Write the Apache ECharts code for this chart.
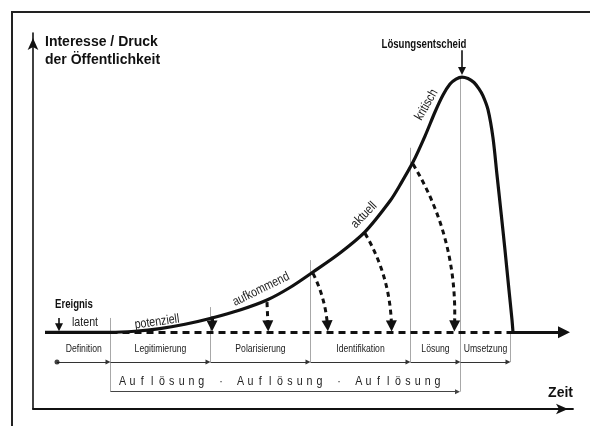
<!DOCTYPE html>
<html><head><meta charset="utf-8">
<script src="https://cdn.jsdelivr.net/npm/echarts@6/dist/echarts.min.js"></script>
<style>html,body{margin:0;padding:0;background:#fff}#c{width:590px;height:426px}</style>
</head><body><div id="c"></div>
<script>
// ---- data (x: time units, y: public interest units, 0 = baseline) ----
const curveX = [1.9, 14.9, 19.9, 24.9, 29.9, 35.3, 40.9, 46.3, 50.9, 55.5, 60.9, 65.9, 70.9, 72.9, 75.5, 77.9, 79.9, 81.5, 82.9, 84.1, 85.3, 86.5, 87.7, 88.7, 89.5, 90.5, 91.5, 92.3, 93.1, 93.9, 94.7, 95.3, 95.5];
const curveY = [0, 0, 0.22, 0.75, 1.62, 2.89, 4.51, 6.53, 9.06, 12.19, 16.03, 20.3, 26.54, 29.77, 34.41, 39.67, 44.53, 47.96, 50.19, 51.2, 51.6, 51.3, 50.5, 49.2, 47.8, 45.0, 39.3, 31.8, 24.3, 16.6, 8.5, 2.5, 0];

const baseDashStart = 15, baseDashEnd = 95.5, baseArrowEnd = 105.7;

const dropStartX = [35.3, 46.3, 55.5, 65.9, 75.5];
const dropStartY = [3.2, 6.1, 11.9, 20.0, 34.0];
const dropEndX   = [35.3, 46.5, 58.4, 71.2, 83.8];
const dropEndY   = [1.3, 1.3, 1.3, 1.3, 1.3];
const dropBend   = [0, 0, 0.1, 0.13, 0.15];

const stageText  = ['latent', 'potenziell', 'aufkommend', 'aktuell', 'kritisch'];
const stageX     = [9.9, 24.3, 45.1, 65.7, 78.2];
const stageY     = [1.9, 2.1, 8.7, 23.7, 46.0];
const stageAngle = [0, 8, 26, 46, 60];

const phaseText   = ['Definition', 'Legitimierung', 'Polarisierung', 'Identifikation', 'Lösung', 'Umsetzung'];
const phaseBounds = [4.3, 15, 35, 55, 75, 85, 95];
const phaseLabelY = -3.4;
const phaseArrowY = -6.0;

const dividerX      = [15, 35, 55, 75, 85, 95];
const dividerTop    = [2.9, 5.1, 14.6, 37.3, 51.6, 0];
const dividerBottom = [-12, -6, -6, -6, -12, -6];

const resolveText = 'Auflösung · Auflösung · Auflösung';
const resolveX = 48.9, resolveY = -10.0;
const resolveStart = 15, resolveEnd = 84.4, resolveLineY = -12;

const eventText = ['Ereignis', 'Lösungsentscheid'];
const eventLabelX = [3.9, 77.7];
const eventLabelY = [5.5, 58.1];
const eventArrowX = [4.7, 85.3];
const eventArrowTop = [2.9, 57.0];
const eventArrowTip = [1.0, 52.8];

const yAxisTitle = 'Interesse / Druck\nder Öffentlichkeit';
const xAxisTitle = 'Zeit';

// ---- chart ----
const FONT = "'Liberation Sans', Arial, sans-serif";
const chart = echarts.init(document.getElementById('c'), null, {renderer: 'canvas'});

const curveData = curveX.map((x, i) => [x, curveY[i]]);

const dropData = dropStartX.map((x, i) => ({
  coords: [[x, dropStartY[i]], [dropEndX[i], dropEndY[i]]],
  lineStyle: {curveness: dropBend[i], type: i === 0 ? 'solid' : [5, 4]}
}));

const dividerData = dividerX.map((x, i) => ({coords: [[x, dividerTop[i]], [x, dividerBottom[i]]]}));
const phaseArrowData = phaseText.map((t, i) => ({coords: [[phaseBounds[i], phaseArrowY], [phaseBounds[i + 1] - 0.5, phaseArrowY]]}));
const eventArrowData = eventArrowX.map((x, i) => ({coords: [[x, eventArrowTop[i]], [x, eventArrowTip[i]]]}));

// condensed text drawn at data positions (custom series, positioned via api.coord)
function textSeries(texts, xs, ys, angles, opts) {
  return {
    type: 'custom', silent: true, z: 6,
    data: texts.map((t, i) => [xs[i], ys[i], angles ? angles[i] : 0]),
    renderItem: function (params, api) {
      const p = api.coord([api.value(0), api.value(1)]);
      const i = params.dataIndex;
      const style = {
        text: texts[i],
        fill: opts.color,
        fontFamily: FONT,
        fontSize: Array.isArray(opts.size) ? opts.size[i] : opts.size,
        fontWeight: opts.weight || 'normal',
        align: opts.aligns ? opts.aligns[i] : 'center', verticalAlign: 'middle'
      };
      if (opts.rich) style.rich = opts.rich;
      return {
        type: 'text', x: p[0], y: p[1],
        rotation: api.value(2) * Math.PI / 180,
        scaleX: Array.isArray(opts.scaleX) ? opts.scaleX[i] : opts.scaleX, scaleY: 1,
        style: style
      };
    }
  };
}

const resolveRich = resolveText.split('').map(c => '{c|' + (c === ' ' ? '\u00a0' : c) + '}').join('');

const option = {
  animation: false,
  backgroundColor: '#fff',
  grid: {left: 33, right: 17, top: 33, bottom: 17},
  xAxis: {
    type: 'value', min: -0.5, max: 107.5,
    axisLine: {onZero: false, symbol: ['none', 'arrow'], symbolSize: [8, 12], symbolOffset: [0, -5],
      lineStyle: {color: '#111', width: 1.8}},
    axisTick: {show: false}, axisLabel: {show: false}, splitLine: {show: false},
    name: xAxisTitle, nameLocation: 'end', nameGap: 0,
    nameTextStyle: {fontFamily: FONT, fontWeight: 'bold', fontSize: 14, color: '#111',
      align: 'right', verticalAlign: 'bottom', padding: [0, 0, 9, 0]}
  },
  yAxis: {
    type: 'value', min: -15.5, max: 60.5,
    axisLine: {onZero: false, symbol: ['none', 'arrow'], symbolSize: [8, 12], symbolOffset: [0, -5],
      lineStyle: {color: '#111', width: 1.6}},
    axisTick: {show: false}, axisLabel: {show: false}, splitLine: {show: false},
    name: yAxisTitle, nameLocation: 'end', nameGap: 0,
    nameTextStyle: {fontFamily: FONT, fontWeight: 'bold', fontSize: 14, color: '#111',
      align: 'left', verticalAlign: 'top', lineHeight: 18, padding: [0, 0, 0, 12]}
  },
  graphic: [{
    type: 'rect', shape: {x: 12, y: 12, width: 620, height: 460}, silent: true,
    style: {fill: 'none', stroke: '#222', lineWidth: 2}
  }],
  series: [
    { // phase dividers
      type: 'lines', coordinateSystem: 'cartesian2d', silent: true, z: 1,
      lineStyle: {color: '#a8a8a8', width: 1, opacity: 1},
      data: dividerData
    },
    { // dashed baseline
      type: 'lines', coordinateSystem: 'cartesian2d', silent: true, z: 2,
      lineStyle: {color: '#111', width: 3, type: [7, 5], opacity: 1},
      data: [{coords: [[baseDashStart, 0], [baseDashEnd, 0]]}]
    },
    { // baseline after implementation
      type: 'lines', coordinateSystem: 'cartesian2d', silent: true, z: 3,
      symbol: ['none', 'triangle'], symbolSize: 12,
      lineStyle: {color: '#111', width: 3, opacity: 1},
      data: [{coords: [[baseDashEnd, 0], [baseArrowEnd, 0]]}]
    },
    { // main issue curve
      type: 'line', silent: true, z: 4, data: curveData, smooth: 0.3,
      showSymbol: false, symbol: 'none',
      lineStyle: {color: '#111', width: 3.2}
    },
    { // drops back to baseline
      type: 'lines', coordinateSystem: 'cartesian2d', silent: true, z: 5,
      symbol: ['none', 'triangle'], symbolSize: 11,
      lineStyle: {color: '#111', width: 3, opacity: 1},
      data: dropData
    },
    { // event arrows
      type: 'lines', coordinateSystem: 'cartesian2d', silent: true, z: 5,
      symbol: ['none', 'triangle'], symbolSize: 8,
      lineStyle: {color: '#111', width: 1.6, opacity: 1},
      data: eventArrowData
    },
    { // phase arrows row
      type: 'lines', coordinateSystem: 'cartesian2d', silent: true, z: 5,
      symbol: ['none', 'triangle'], symbolSize: 5,
      lineStyle: {color: '#333', width: 1.1, opacity: 1},
      data: phaseArrowData
    },
    { // resolution bracket
      type: 'lines', coordinateSystem: 'cartesian2d', silent: true, z: 5,
      symbol: ['none', 'triangle'], symbolSize: 5,
      lineStyle: {color: '#444', width: 1.1, opacity: 1},
      data: [{coords: [[resolveStart, resolveLineY], [resolveEnd, resolveLineY]]}]
    },
    { // start dot
      type: 'scatter', silent: true, z: 6, symbol: 'circle', symbolSize: 5,
      itemStyle: {color: '#111'},
      data: [[phaseBounds[0], phaseArrowY]]
    },
    textSeries(phaseText,
      phaseText.map((t, i) => (phaseBounds[i] + phaseBounds[i + 1]) / 2),
      phaseText.map(() => phaseLabelY), null,
      {size: 11.5, scaleX: 0.75, color: '#222'}),
    textSeries(stageText, stageX, stageY, stageAngle,
      {size: 13, scaleX: 0.82, color: '#222'}),
    textSeries(eventText, eventLabelX, eventLabelY, null,
      {size: [12, 13], scaleX: [0.8, 0.74], color: '#111', weight: 'bold', aligns: ['left', 'center']}),
    textSeries([resolveRich], [resolveX], [resolveY], null,
      {size: 13, scaleX: 0.82, color: '#222',
       rich: {c: {width: 12, align: 'center', fontFamily: FONT, fontSize: 13, fill: '#222'}}})
  ]
};
chart.setOption(option);
</script></body></html>
